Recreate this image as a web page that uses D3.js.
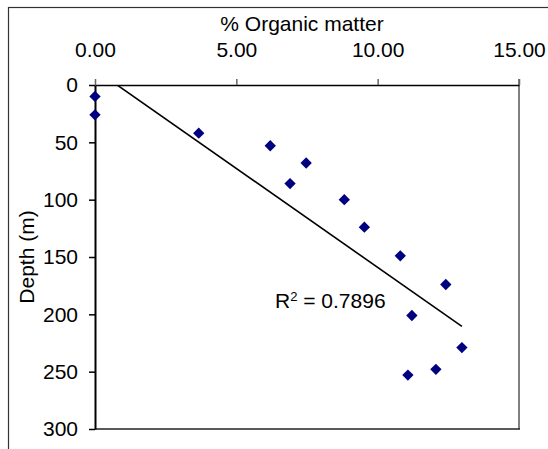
<!DOCTYPE html>
<html>
<head>
<meta charset="utf-8">
<script src="https://cdn.jsdelivr.net/npm/d3@7"></script>
<style>
  body { margin: 0; background: #fff; }
  text { font-family: "Liberation Sans", Arial, sans-serif; }
</style>
</head>
<body>
<div id="my_dataviz"></div>
<script>
// data
var organic = [0, 0, 3.67, 6.2, 7.47, 6.9, 8.82, 9.53, 10.8, 12.41, 11.21, 12.98, 12.06, 11.07];
var depth   = [10, 26, 42, 53, 68, 86, 100, 124, 149, 174, 201, 229, 248, 253];
var xTicks = [0, 5, 10, 15];
var yTicks = [0, 50, 100, 150, 200, 250, 300];
var r2Label = "0.7896";

var W = 548, H = 449;
var plot = {left: 95, right: 519, top: 85, bottom: 429};
var fs = "21px";

var svg = d3.select("#my_dataviz")
  .append("svg")
    .attr("width", W)
    .attr("height", H);

// chart area border (runs off the right and bottom edge)
svg.append("rect")
  .attr("x", 8.5).attr("y", 7.5)
  .attr("width", 600).attr("height", 600)
  .attr("fill", "#fff")
  .attr("stroke", "#333")
  .attr("stroke-width", 1.2);

var x = d3.scaleLinear()
  .domain([0, 15])
  .range([plot.left, plot.right]);

var y = d3.scaleLinear()
  .domain([0, 300])
  .range([plot.top, plot.bottom]);

// plot area border: right side grey, bottom dark
svg.append("line")
  .attr("x1", plot.right).attr("x2", plot.right)
  .attr("y1", plot.top - 6).attr("y2", plot.bottom)
  .attr("stroke", "#808080").attr("stroke-width", 2);
svg.append("line")
  .attr("x1", plot.left).attr("x2", plot.right + 1)
  .attr("y1", plot.bottom).attr("y2", plot.bottom)
  .attr("stroke", "#222").attr("stroke-width", 1.5);

// X axis on top
var gx = svg.append("g")
  .attr("transform", "translate(0," + plot.top + ")")
  .call(d3.axisTop(x)
    .tickValues(xTicks)
    .tickFormat(d3.format(".2f"))
    .tickSize(6)
    .tickSizeOuter(0)
    .tickPadding(22));
gx.select(".domain").attr("stroke", "#000").attr("stroke-width", 1.5);
gx.selectAll(".tick line").attr("stroke", "#666").attr("stroke-width", 1.5);
gx.selectAll("text")
  .attr("fill", "#000")
  .style("font-size", fs)
  .style("font-family", "'Liberation Sans', Arial, sans-serif");

// Y axis
var gy = svg.append("g")
  .attr("transform", "translate(" + plot.left + ",0)")
  .call(d3.axisLeft(y)
    .tickValues(yTicks)
    .tickSize(6)
    .tickSizeOuter(0)
    .tickPadding(11));
gy.select(".domain").attr("stroke", "#000").attr("stroke-width", 2);
gy.selectAll(".tick line").attr("stroke", "#000").attr("stroke-width", 1.5);
gy.selectAll("text")
  .attr("fill", "#000")
  .style("font-size", fs)
  .style("font-family", "'Liberation Sans', Arial, sans-serif");

// axis titles
svg.append("text")
  .attr("x", (plot.left + plot.right) / 2 - 5)
  .attr("y", 31)
  .attr("text-anchor", "middle")
  .style("font-size", fs)
  .text("% Organic matter");

svg.append("text")
  .attr("transform", "translate(34," + ((plot.top + plot.bottom) / 2) + ") rotate(-90)")
  .attr("text-anchor", "middle")
  .style("font-size", fs)
  .text("Depth (m)");

// linear trendline (depth on organic matter), clipped to the plot area
var mx = d3.mean(organic), my = d3.mean(depth);
var sxy = d3.sum(organic, function(d, i) { return (d - mx) * (depth[i] - my); });
var sxx = d3.sum(organic, function(d) { return (d - mx) * (d - mx); });
var slope = sxy / sxx, icpt = my - slope * mx;
var xr = [0, d3.max(organic)];

svg.append("clipPath")
    .attr("id", "clip")
  .append("rect")
    .attr("x", plot.left).attr("y", plot.top)
    .attr("width", plot.right - plot.left)
    .attr("height", plot.bottom - plot.top);

svg.append("g")
  .attr("clip-path", "url(#clip)")
  .append("line")
    .attr("x1", x(xr[0])).attr("y1", y(icpt + slope * xr[0]))
    .attr("x2", x(xr[1])).attr("y2", y(icpt + slope * xr[1]))
    .attr("stroke", "#000")
    .attr("stroke-width", 1.6);

// points
var pts = organic.map(function(d, i) { return [d, depth[i]]; });
svg.append("g")
  .selectAll("path")
  .data(pts)
  .enter().append("path")
    .attr("d", d3.symbol().type(d3.symbolSquare).size(64))
    .attr("transform", function(d) { return "translate(" + x(d[0]) + "," + y(d[1]) + ") rotate(45)"; })
    .attr("fill", "#000080");

// R squared label
var r2 = svg.append("text")
  .attr("x", 275)
  .attr("y", 308)
  .style("font-size", fs);
r2.append("tspan").text("R");
r2.append("tspan").attr("dy", -7).style("font-size", "13px").text("2");
r2.append("tspan").attr("dy", 7).text(" = " + r2Label);
</script>
</body>
</html>
